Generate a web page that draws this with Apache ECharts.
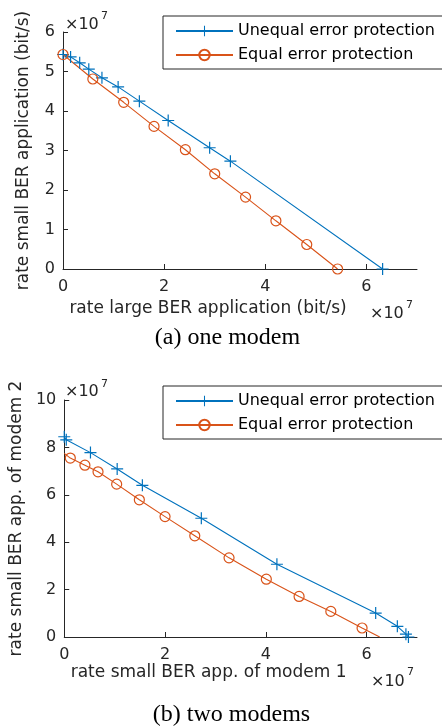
<!DOCTYPE html>
<html>
<head>
<meta charset="utf-8">
<script src="https://cdn.jsdelivr.net/npm/echarts@6.0.0/dist/echarts.min.js"></script>
<style>
    html, body { margin: 0; padding: 0; background: #fff; }
    #chart { width: 442px; height: 727px; }
</style>
</head>
<body>
<div id="chart"></div>
<script>
// all rates in units of 1e7 bit/s
var seriesNames = ['Unequal error protection', 'Equal error protection'];

// (a) one modem
var uepOneX = [0, 0.15, 0.33, 0.51, 0.77, 1.09, 1.51, 2.08, 2.90, 3.31, 6.32];
var uepOneY = [5.43, 5.37, 5.22, 5.06, 4.84, 4.61, 4.25, 3.76, 3.07, 2.73, 0];
var eepOneX = [0, 0.59, 1.20, 1.80, 2.42, 3.00, 3.61, 4.21, 4.82, 5.43];
var eepOneY = [5.43, 4.81, 4.22, 3.61, 3.02, 2.41, 1.82, 1.22, 0.62, 0];

// (b) two modems
var uepTwoX = [0, 0.04, 0.52, 1.05, 1.55, 2.72, 4.22, 6.18, 6.61, 6.78, 6.83];
var uepTwoY = [8.45, 8.32, 7.78, 7.09, 6.40, 5.01, 3.07, 1.01, 0.45, 0.12, 0];
var eepTwoX = [0, 0.12, 0.41, 0.67, 1.04, 1.49, 2.00, 2.59, 3.27, 4.01, 4.66, 5.29, 5.91, 6.26];
var eepTwoY = [7.75, 7.55, 7.25, 6.97, 6.45, 5.79, 5.08, 4.27, 3.34, 2.44, 1.71, 1.08, 0.38, 0];

var xTicks = [0, 2, 4, 6];
var yTicksOne = [0, 1, 2, 3, 4, 5, 6];
var yTicksTwo = [0, 2, 4, 6, 8, 10];

var blue = '#0072BD';
var orange = '#D95319';
var axisColor = '#262626';
var font = 'DejaVu Sans';
var plus = 'path://M-0.1,-1H0.1V-0.1H1V0.1H0.1V1H-0.1V0.1H-1V-0.1H-0.1Z';

function pairs(xs, ys, bareEnds) {
    var out = [];
    for (var i = 0; i < xs.length; i++) {
        var item = { value: [xs[i], ys[i]] };
        if (bareEnds && (i === 0 || i === xs.length - 1)) {
            item.symbol = 'none';
        }
        out.push(item);
    }
    return out;
}

function xAxisFor(idx, name, gap) {
    return {
        type: 'value', gridIndex: idx, min: 0, max: 7, interval: 2,
        axisLine: { lineStyle: { color: axisColor, width: 1 } },
        axisTick: { inside: true, length: 5, customValues: xTicks, lineStyle: { color: axisColor } },
        axisLabel: { customValues: xTicks, margin: 10, fontSize: 16, fontFamily: font, color: axisColor },
        splitLine: { show: false },
        name: name, nameLocation: 'middle', nameGap: gap,
        nameTextStyle: { fontSize: 17, fontFamily: font, color: axisColor, padding: [0, 64, 0, 0] }
    };
}

function yAxisFor(idx, max, interval, ticks, name, gap) {
    return {
        type: 'value', gridIndex: idx, min: 0, max: max, interval: interval,
        axisLine: { show: true, lineStyle: { color: axisColor, width: 1 } },
        axisTick: { show: true, inside: true, length: 5, customValues: ticks, lineStyle: { color: axisColor } },
        axisLabel: { customValues: ticks, margin: 8, fontSize: 16, fontFamily: font, color: axisColor },
        splitLine: { show: false },
        name: name, nameLocation: 'middle', nameGap: gap,
        nameTextStyle: { fontSize: 17, fontFamily: font, color: axisColor }
    };
}

function uepSeries(idx, data) {
    return {
        name: seriesNames[0], type: 'line', xAxisIndex: idx, yAxisIndex: idx,
        data: data, symbol: plus, symbolSize: 12, clip: false, animation: false,
        lineStyle: { color: blue, width: 1.1 },
        itemStyle: { color: blue, borderWidth: 0 }
    };
}

function eepSeries(idx, data) {
    return {
        name: seriesNames[1], type: 'line', xAxisIndex: idx, yAxisIndex: idx,
        data: data, symbol: 'circle', symbolSize: 10, clip: false, animation: false,
        lineStyle: { color: orange, width: 1.1 },
        itemStyle: { color: 'rgba(0,0,0,0)', borderColor: orange, borderWidth: 1.2 }
    };
}

function legendAt(top) {
    return {
        orient: 'vertical', left: 163, top: top,
        padding: [7, 12, 6, 12], itemWidth: 57, itemHeight: 13, itemGap: 8,
        borderColor: axisColor, borderWidth: 1, borderRadius: 0, backgroundColor: '#fff',
        selectedMode: false, data: seriesNames,
        textStyle: { fontSize: 16, fontFamily: font, color: '#000' }
    };
}

function exponent(x, y, yy) {
    return [
        { type: 'text', x: x, y: y, style: { text: '×10', fontSize: 16, fontFamily: font, fill: axisColor, verticalAlign: 'middle' } },
        { type: 'text', x: x + 36, y: yy, style: { text: '7', fontSize: 11, fontFamily: font, fill: axisColor, verticalAlign: 'middle' } }
    ];
}

var chart = echarts.init(document.getElementById('chart'), null, { renderer: 'canvas' });

var option = {
    backgroundColor: '#fff',
    animation: false,
    grid: [
        { left: 63, top: 32, width: 354, height: 237 },
        { left: 63, top: 400, width: 354, height: 237 }
    ],
    legend: [legendAt(16), legendAt(386)],
    xAxis: [
        xAxisFor(0, 'rate large BER application (bit/s)', 31),
        xAxisFor(1, 'rate small BER app. of modem 1', 26)
    ],
    yAxis: [
        yAxisFor(0, 6, 1, yTicksOne, 'rate small BER application (bit/s)', 31),
        yAxisFor(1, 10, 2, yTicksTwo, 'rate small BER app. of modem 2', 31)
    ],
    series: [
        uepSeries(0, pairs(uepOneX, uepOneY, false)),
        eepSeries(0, pairs(eepOneX, eepOneY, false)),
        uepSeries(1, pairs(uepTwoX, uepTwoY, false)),
        eepSeries(1, pairs(eepTwoX, eepTwoY, true))
    ],
    graphic: [].concat(
        exponent(65, 24.5, 16.5),
        exponent(370, 314, 305),
        exponent(65, 391.5, 384),
        exponent(371, 682, 672.5),
        [
            { type: 'text', x: 227.5, y: 337.5, style: { text: '(a) one modem', fontSize: 24, fontFamily: 'Liberation Serif', fill: '#000', align: 'center', verticalAlign: 'middle' } },
            { type: 'text', x: 231.5, y: 715, style: { text: '(b) two modems', fontSize: 24, fontFamily: 'Liberation Serif', fill: '#000', align: 'center', verticalAlign: 'middle' } }
        ]
    )
};

chart.setOption(option);
</script>
</body>
</html>
